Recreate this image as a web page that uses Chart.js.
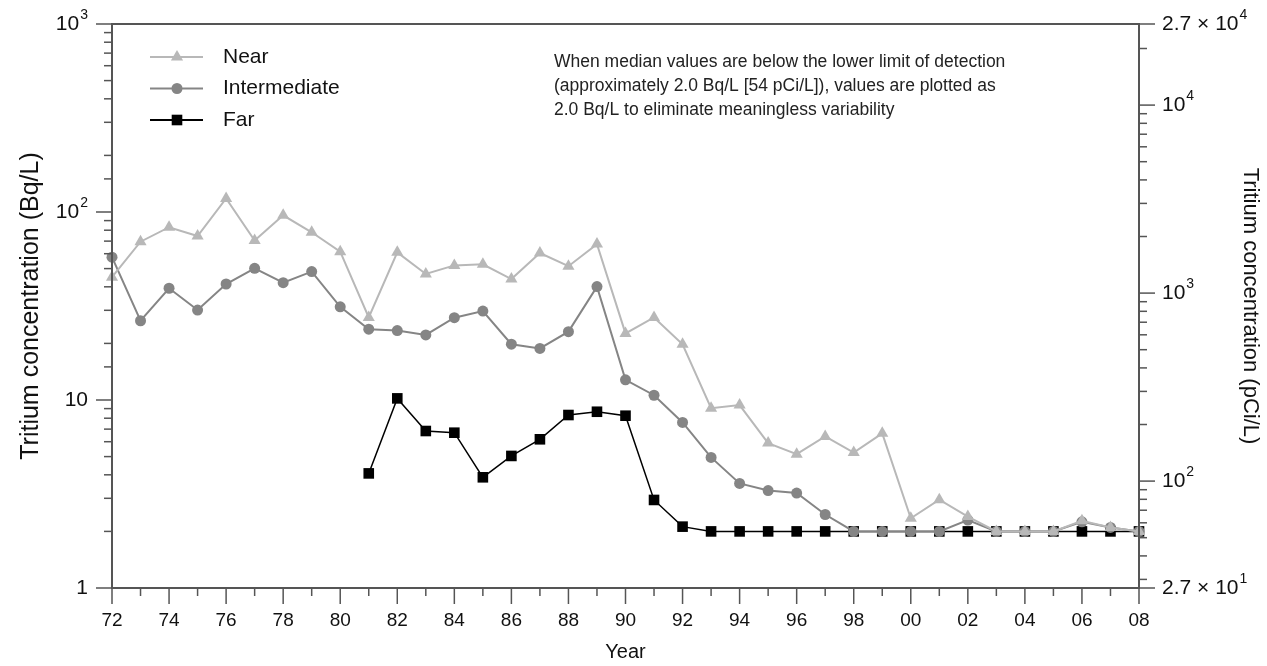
<!DOCTYPE html>
<html>
<head>
<meta charset="utf-8">
<script src="https://cdn.jsdelivr.net/npm/chart.js@4/dist/chart.umd.min.js"></script>
<style>
  html,body{margin:0;padding:0;background:#fff;}
  #wrap{width:1267px;height:666px;position:relative;}
</style>
</head>
<body>
<div id="wrap"><canvas id="c"></canvas></div>
<script>
// ---------- DATA ----------
const years = [1972,1973,1974,1975,1976,1977,1978,1979,1980,1981,1982,1983,1984,1985,1986,1987,1988,1989,1990,
  1991,1992,1993,1994,1995,1996,1997,1998,1999,2000,2001,2002,2003,2004,2005,2006,2007,2008];
const nearVals = [45,69.5,83,74.5,118,70.5,96,78,61.5,27.5,61,46.8,52,52.7,44,60.5,51.5,67.5,22.6,
  27.5,19.8,9.05,9.4,5.9,5.15,6.4,5.25,6.65,2.35,2.95,2.4,2,2,2,2.28,2.1,2];
const interVals = [57.5,26.4,39.3,30.1,41.4,50.2,42.1,48.2,31.3,23.8,23.4,22.2,27.4,29.7,19.8,18.8,23.1,40.1,12.8,
  10.6,7.6,4.95,3.6,3.3,3.2,2.46,2,2,2,2,2.3,2,2,2,2.25,2.1,2];
const farVals = [null,null,null,null,null,null,null,null,null,4.07,10.2,6.84,6.7,3.88,5.04,6.18,8.32,8.66,8.25,
  2.94,2.12,2,2,2,2,2,2,2,2,2,2,2,2,2,2,2,2];
const seriesNames = ['Near','Intermediate','Far'];
// tick labels as [base, exponent]
const leftLabels = {1:['1',''],10:['10',''],100:['10','2'],1000:['10','3']};
const rightLabels = {27:['2.7 × 10','1'],100:['10','2'],1000:['10','3'],10000:['10','4'],27000:['2.7 × 10','4']};
const rightTicks = [27,30,40,50,60,70,80,90,100,200,300,400,500,600,700,800,900,
  1000,2000,3000,4000,5000,6000,7000,8000,9000,10000,20000,27000];
const noteLines = ['When median values are below the lower limit of detection',
  '(approximately 2.0 Bq/L [54 pCi/L]), values are plotted as',
  '2.0 Bq/L to eliminate meaningless variability'];

const FONT = "'Liberation Sans', Arial, sans-serif";
const AXIS = '#555';
const colors = ['#b8b8b8','#858585','#000000'];
const styles = ['triangle','circle','rect'];
const radii = [7,5.5,7.5];

const pts = arr => years.map((y,i)=>({x:y,y:arr[i]}));

// ---------- PLUGINS ----------
function marker(ctx,style,x,y,r,col){
  ctx.fillStyle=col;
  ctx.beginPath();
  if(style==='triangle'){ ctx.moveTo(x,y-r); ctx.lineTo(x+r*0.87,y+r*0.5); ctx.lineTo(x-r*0.87,y+r*0.5); ctx.closePath(); }
  else if(style==='circle'){ ctx.arc(x,y,r,0,Math.PI*2); }
  else { const s=r*Math.SQRT1_2; ctx.rect(x-s,y-s,2*s,2*s); }
  ctx.fill();
}

// label with superscript; align 'right' or 'left' at x
function supLabel(ctx,parts,x,y,align){
  const [base,exp]=parts;
  ctx.font='21px '+FONT; const wb=ctx.measureText(base).width;
  ctx.font='14px '+FONT; const we=exp?ctx.measureText(exp).width+1:0;
  const x0 = align==='right' ? x-wb-we : x;
  ctx.textAlign='left'; ctx.textBaseline='middle'; ctx.fillStyle='#111';
  ctx.font='21px '+FONT; ctx.fillText(base,x0,y);
  if(exp){ ctx.font='14px '+FONT; ctx.fillText(exp,x0+wb+1,y-9); }
}

const frame = {
  id:'frame',
  afterDraw(chart){
    const {ctx, chartArea:a, scales} = chart;
    ctx.save();
    ctx.strokeStyle=AXIS; ctx.lineWidth=2;
    ctx.strokeRect(a.left,a.top,a.right-a.left,a.bottom-a.top);
    ctx.lineWidth=1.5;
    const line=(x1,y1,x2,y2)=>{ctx.beginPath();ctx.moveTo(x1,y1);ctx.lineTo(x2,y2);ctx.stroke();};
    scales.x.ticks.forEach(t=>{
      const px=scales.x.getPixelForValue(t.value);
      line(px,a.bottom,px,a.bottom+(t.value%2===0?16:8));
    });
    scales.y.ticks.forEach(t=>{
      const py=scales.y.getPixelForValue(t.value);
      const lab=leftLabels[t.value];
      line(a.left,py,a.left-(lab?16:8),py);
      if(lab) supLabel(ctx,lab,a.left-24,py,'right');
    });
    scales.y2.ticks.forEach(t=>{
      const py=scales.y2.getPixelForValue(t.value);
      const lab=rightLabels[t.value];
      line(a.right,py,a.right+(lab?16:8),py);
      if(lab) supLabel(ctx,lab,a.right+23,py,'left');
    });
    // legend
    ctx.font='21px '+FONT; ctx.textBaseline='middle'; ctx.textAlign='left';
    seriesNames.forEach((n,i)=>{
      const y=57+i*31.5;
      ctx.strokeStyle=colors[i]; ctx.lineWidth=2;
      line(150,y,203,y);
      marker(ctx,styles[i],177,y,radii[i],colors[i]);
      ctx.fillStyle='#111'; ctx.fillText(n,223,y);
    });
    // note
    ctx.font='17.5px '+FONT; ctx.fillStyle='#222';
    noteLines.forEach((s,i)=>ctx.fillText(s,554,62+i*24));
    ctx.restore();
  }
};

// ---------- CHART ----------
const ds = [nearVals,interVals,farVals].map((arr,i)=>({
  label:seriesNames[i], data:pts(arr), yAxisID:'y',
  borderColor:colors[i], backgroundColor:colors[i], borderWidth:i===2?1.5:2,
  pointStyle:styles[i], pointRadius:radii[i], pointBorderWidth:0, pointBackgroundColor:colors[i],
  spanGaps:false, clip:false, tension:0
}));

new Chart(document.getElementById('c').getContext('2d'),{
  type:'line',
  data:{datasets:ds},
  options:{
    responsive:true, maintainAspectRatio:false, animation:false,
    layout:{padding:{top:24,left:0,right:0,bottom:0}},
    plugins:{legend:{display:false},tooltip:{enabled:false}},
    scales:{
      x:{type:'linear',min:1972,max:2008,
        grid:{display:false,drawTicks:false},border:{display:false},
        ticks:{stepSize:1,autoSkip:false,maxRotation:0,padding:21,color:'#111',font:{size:19,family:FONT},
          callback:v=>v%2===0?String(v).slice(2):''},
        title:{display:true,text:'Year',color:'#111',font:{size:20,family:FONT},padding:{top:0,bottom:2}},
        afterFit:s=>{s.height=78;}},
      y:{type:'logarithmic',position:'left',min:1,max:1000,
        grid:{display:false,drawTicks:false},border:{display:false},
        ticks:{autoSkip:false,callback:()=>''},
        title:{display:true,text:'Tritium concentration (Bq/L)',color:'#111',font:{size:25,family:FONT},padding:{top:16}},
        afterFit:s=>{s.width=112;}},
      y2:{type:'logarithmic',position:'right',min:27,max:27000,
        grid:{display:false,drawTicks:false},border:{display:false},
        afterBuildTicks:s=>{s.ticks=rightTicks.map(v=>({value:v}));},
        ticks:{autoSkip:false,callback:()=>''},
        title:{display:true,text:'Tritium concentration (pCi/L)',color:'#111',font:{size:22,family:FONT},padding:{top:4}},
        afterFit:s=>{s.width=128;}}
    }
  },
  plugins:[frame]
});
</script>
</body>
</html>
